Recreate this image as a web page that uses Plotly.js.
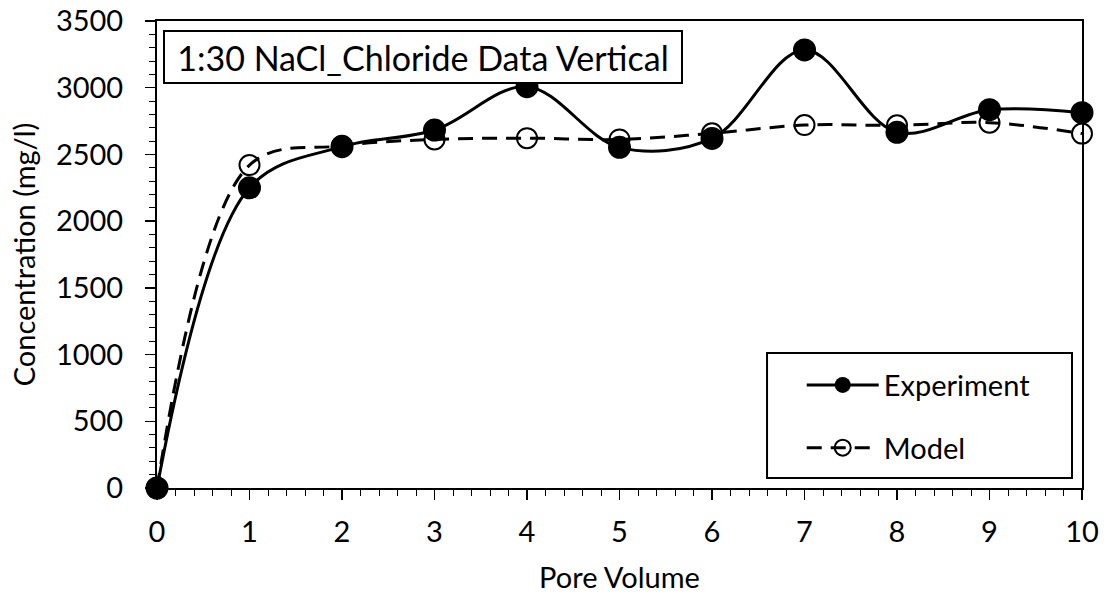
<!DOCTYPE html>
<html>
<head>
<meta charset="utf-8">
<script src="https://cdn.plot.ly/plotly-3.0.1.min.js"></script>
<style>html,body{margin:0;padding:0;background:#fff;}#chart{width:1104px;height:594px;}</style>
</head>
<body>
<div id="chart"></div>
<script>
const poreVolume = [0, 1, 2, 3, 4, 5, 6, 7, 8, 9, 10];
const experiment = [0, 2250, 2558, 2683, 3008, 2553, 2620, 3283, 2666, 2835, 2813];
const model = [0, 2420, 2565, 2612, 2622, 2612, 2658, 2720, 2718, 2738, 2656];
const chartTitle = "1:30 NaCl_Chloride Data Vertical";
const xTitle = "Pore Volume";
const yTitle = "Concentration (mg/l)";
const FONT = "Lato, 'Open Sans', sans-serif";

const traces = [
  {
    x: poreVolume, y: model, name: "Model", type: "scatter", mode: "lines+markers",
    line: {color: "#000", width: 3, dash: "15px,9px", shape: "spline", smoothing: 1},
    marker: {symbol: "circle-open", size: 20, color: "#000", line: {width: 2, color: "#000"}},
    legendgroup: "b", legendrank: 2, cliponaxis: false
  },
  {
    x: poreVolume, y: experiment, name: "Experiment", type: "scatter", mode: "lines+markers",
    line: {color: "#000", width: 3, shape: "spline", smoothing: 1},
    marker: {symbol: "circle", size: 23, color: "#000"},
    legendgroup: "a", legendrank: 1, cliponaxis: false
  }
];

const layout = {
  width: 1104, height: 594,
  margin: {l: 157, r: 22, t: 21, b: 106},
  paper_bgcolor: "#fff", plot_bgcolor: "#fff",
  font: {family: FONT, color: "#000", size: 29},
  showlegend: true,
  legend: {
    x: 0.697, y: 0.275, xanchor: "left", yanchor: "top",
    borderwidth: 0, bgcolor: "rgba(0,0,0,0)",
    font: {family: FONT, size: 29, color: "#000"},
    traceorder: "grouped", tracegroupgap: 22, itemwidth: 72
  },
  xaxis: {
    range: [0, 10], dtick: 1, tick0: 0,
    showgrid: false, zeroline: false,
    showline: true, linecolor: "#000", linewidth: 2, mirror: true,
    ticks: "outside", ticklen: 10, tickwidth: 1.5, tickcolor: "#000",
    minor: {dtick: 0.2, ticks: "outside", ticklen: 6, tickwidth: 1, tickcolor: "#000", showgrid: false},
    tickfont: {size: 29, family: FONT},
    ticklabelstandoff: 7,
    title: {text: xTitle, font: {size: 29, family: FONT}, standoff: 22}
  },
  yaxis: {
    range: [0, 3500], dtick: 500, tick0: 0,
    showgrid: false, zeroline: false,
    showline: true, linecolor: "#000", linewidth: 2, mirror: true,
    ticks: "outside", ticklen: 10, tickwidth: 1.5, tickcolor: "#000",
    minor: {dtick: 100, ticks: "outside", ticklen: 6, tickwidth: 1, tickcolor: "#000", showgrid: false},
    tickfont: {size: 29, family: FONT},
    ticklabelstandoff: 16,
    title: {text: yTitle, font: {size: 29, family: FONT}, standoff: 12}
  },
  shapes: [{
    type: "rect", xref: "paper", yref: "paper",
    x0: 0.6595, x1: 0.9892, y0: 0.0214, y1: 0.2891,
    line: {color: "#000", width: 2}, fillcolor: "rgba(0,0,0,0)", layer: "above"
  }],
  annotations: [{
    text: chartTitle, xref: "paper", yref: "paper",
    x: 0.0065, y: 0.981, xanchor: "left", yanchor: "top", showarrow: false,
    width: 514, height: 48, align: "center", valign: "middle",
    font: {size: 34, family: FONT, color: "#000"},
    bordercolor: "#000", borderwidth: 2, borderpad: 1, bgcolor: "#fff"
  }]
};

Plotly.newPlot("chart", traces, layout, {displayModeBar: false, staticPlot: true});
</script>
</body>
</html>
